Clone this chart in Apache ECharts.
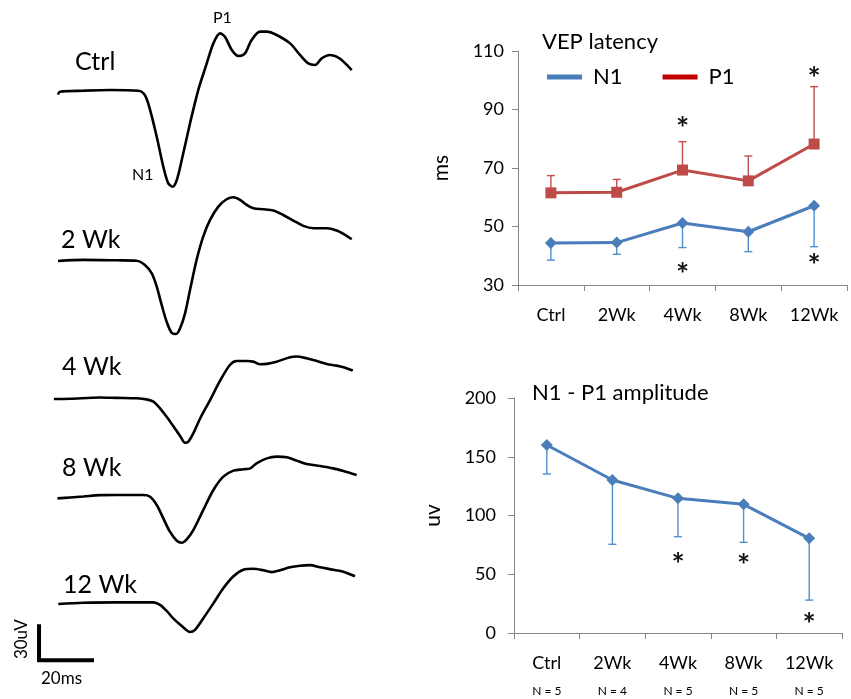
<!DOCTYPE html>
<html>
<head>
<meta charset="utf-8">
<script src="https://cdn.jsdelivr.net/npm/echarts@6/dist/echarts.min.js"></script>
<style>
  html, body { margin: 0; background: #fff; }
  #chart { width: 851px; height: 699px; }
</style>
</head>
<body>
<div id="chart"></div>
<script>
  // groups on the right hand plots
  var groups = ['Ctrl', '2Wk', '4Wk', '8Wk', '12Wk'];
  var groupN = ['N = 5', 'N = 4', 'N = 5', 'N = 5', 'N = 5'];
  var latencyTicks = [30, 50, 70, 90, 110];
  var amplitudeTicks = [0, 50, 100, 150, 200];

  // VEP latency (ms)
  var n1Latency = [44.4, 44.5, 51.2, 48.2, 57.1];
  var n1LatencyLow = [38.5, 40.5, 42.8, 41.4, 43.1];
  var p1Latency = [61.5, 61.7, 69.3, 65.6, 78.2];
  var p1LatencyHigh = [67.4, 66.1, 79.0, 74.1, 97.8];
  var latencyStars = [[2, 85.7], [2, 35.8], [4, 102.8], [4, 38.9]];

  // N1 - P1 amplitude (uv)
  var amplitude = [160, 130.2, 114.6, 109.5, 80.6];
  var amplitudeLow = [135.3, 75.5, 82, 77.2, 28];
  var amplitudeStars = [[2, 63.8], [3, 63], [4, 12.8]];

  // VEP traces, [ms, uV] relative to baseline
  var traceNames = ['Ctrl', '2 Wk', '4 Wk', '8 Wk', '12 Wk'];
  var traceCtrl = [[0,-3],[0.7,-0.8],[9.2,0],[18.9,0.5],[29.2,0],[31.6,-3.3],[33.5,-14.5],[35.9,-34.5],[38.3,-57],[40.1,-69.5],[41.7,-72],[43.2,-67],[45,-52],[48,-24.5],[51,0.5],[54.1,20.5],[56.5,35.5],[58.9,43],[60.7,40.5],[63.2,30.5],[65.6,26],[68,28],[70.4,38],[73.5,44.3],[75.9,44.3],[79.5,41.8],[84.4,35.5],[88,26.8],[91,20.5],[93.5,19.3],[95.9,24.3],[98.9,26.8],[101.3,25.5],[103.8,21.8],[106.8,15.5]];
  var trace2Wk = [[0,-0.5],[9.2,0.3],[21.3,0],[28.6,-0.3],[31.6,-3.5],[34.1,-9.8],[35.9,-19.8],[37.7,-33.5],[39.5,-46],[41.3,-54.3],[42.9,-55.3],[44.4,-51],[46.2,-39.8],[48,-22.3],[50.4,0.3],[52.8,17.8],[55.3,30.3],[58.3,40.3],[61.3,45.8],[63.8,47.3],[66.2,45.3],[68.6,41.5],[71,39],[74.7,38.3],[78.3,37.3],[81.9,34],[85.6,29.8],[89.2,25.8],[92.8,24],[97.7,24],[101.3,22.3],[104.4,19],[106.8,15.8]];
  var trace4Wk = [[-1.5,-0.5],[4.4,-0.3],[15.3,0.6],[21.3,0.3],[28.6,0],[32.2,-0.8],[34.7,-2.5],[37.1,-7.5],[39.5,-13.8],[41.9,-20.8],[44.4,-28.3],[46.2,-33.3],[47.4,-32.5],[49.2,-26.3],[51.6,-15.5],[55.3,-1.3],[58.9,13],[62.5,25],[65,28],[68.6,28],[71,27.5],[73.5,25.5],[75.9,25.8],[79.5,27.5],[84.4,30.8],[86.8,31.3],[90.4,30],[94.1,28],[97.7,25.8],[101.3,24.5],[103.8,23.3],[107.2,20.8]];
  var trace8Wk = [[-0.2,-2],[4.4,-1.3],[9.2,-0.6],[15.3,0.4],[21.3,0.5],[31,0.5],[33.5,-0.8],[35.9,-7],[38.3,-17],[40.7,-27],[43.2,-33.8],[45,-35.3],[46.8,-32.8],[49.2,-25.8],[52.8,-10.8],[56.5,4.3],[60.1,14.3],[63.8,18.8],[67.4,19.8],[69.9,20.5],[72.2,24.3],[75.9,28],[79.5,29.3],[83.2,28.8],[86.8,26.3],[90.4,23.8],[95.3,22.3],[100.1,20.5],[103.8,18.5],[108.6,15.5]];
  var trace12Wk = [[0.1,-1],[9.2,0],[21.3,0.3],[34.7,0.3],[37.1,-1.8],[39.5,-6.8],[41.9,-13],[45,-19.3],[48,-24.3],[49.8,-22.5],[52.8,-13],[56.5,-0.5],[60.1,12],[63.8,22],[67.4,27.5],[71,28.3],[74.7,27],[77.7,25.5],[80.7,27],[84.4,29.5],[88,30.8],[91.6,31.3],[95.3,29.5],[100.1,27.5],[103.8,25.8],[108,22]];
  var traces = [traceCtrl, trace2Wk, trace4Wk, trace8Wk, trace12Wk];
  var scaleBar = [20, 30]; // ms, uV

  var FONT = 'Lato, "Open Sans", sans-serif';
  var BLUE = '#4a7ebb', RED = '#be4b48';
  var BLUE_BAR = '#4f8fd0', RED_BAR = '#c0504d';

  // trace layout: 2.75 px per ms, 40px = 30 uV
  var pxMs = 2.75, pxUv = 40 / 30;
  var traceBase = [90.7, 260.3, 398.3, 495.7, 609.3];

  var grids = [], xAxes = [], yAxes = [], series = [];
  traces.forEach(function (tr, i) {
    grids.push({left: 58 - 10 * pxMs, width: 122 * pxMs, top: traceBase[i] - 50 * pxUv, height: 130 * pxUv});
    xAxes.push({gridIndex: i, type: 'value', min: -10, max: 112, show: false});
    yAxes.push({gridIndex: i, type: 'value', min: -80, max: 50, show: false});
    series.push({
      type: 'line', xAxisIndex: i, yAxisIndex: i, data: tr,
      showSymbol: false, smooth: 0.3, silent: true,
      lineStyle: {color: '#000', width: 2.6}
    });
  });

  // scale bar in the 12 Wk trace grid
  series.push({
    type: 'custom', xAxisIndex: 4, yAxisIndex: 4, silent: true,
    data: [[-6.9, -47.8]],
    renderItem: function (params, api) {
      var t = api.value(0), v = api.value(1);
      var c = api.coord([t, v]);
      var r = api.coord([t + scaleBar[0], v]);
      var u = api.coord([t, v + scaleBar[1]]);
      return {type: 'group', children: [
        {type: 'polyline', shape: {points: [u, c, r]}, style: {stroke: '#000', lineWidth: 4, fill: null, lineJoin: 'miter', lineCap: 'butt'}},
        {type: 'text', x: c[0] - 18, y: (c[1] + u[1]) / 2 - 3, rotation: Math.PI / 2,
          style: {text: scaleBar[1] + 'uV', font: '17px ' + FONT, fill: '#000', align: 'center', verticalAlign: 'middle'}},
        {type: 'text', x: (c[0] + r[0]) / 2 - 5, y: c[1] + 18,
          style: {text: scaleBar[0] + 'ms', font: '17px ' + FONT, fill: '#000', align: 'center', verticalAlign: 'middle'}}
      ]};
    }
  });

  function errorBars(color) {
    return function (params, api) {
      var a = api.coord([api.value(0), api.value(1)]);
      var b = api.coord([api.value(0), api.value(2)]);
      var st = {stroke: color, lineWidth: 1.4};
      return {type: 'group', children: [
        {type: 'line', shape: {x1: a[0], y1: a[1], x2: b[0], y2: b[1]}, style: st},
        {type: 'line', shape: {x1: b[0] - 4, y1: b[1], x2: b[0] + 4, y2: b[1]}, style: st}
      ]};
    };
  }
  function stars(params, api) {
    var p = api.coord([api.value(0), api.value(1)]);
    return {type: 'text', x: p[0], y: p[1] + 7,
      style: {text: '*', font: 'bold 31px ' + FONT, fill: '#111', align: 'center', verticalAlign: 'middle'}};
  }

  var axisGray = {lineStyle: {color: '#868686', width: 1}};
  function catAxis(grid, data, margin, size, line) {
    return {
      gridIndex: grid, type: 'category', data: data, position: 'bottom',
      axisLine: {show: line, lineStyle: axisGray.lineStyle},
      axisTick: {show: line, interval: 0, length: 6, lineStyle: axisGray.lineStyle},
      axisLabel: {interval: 0, margin: margin, fontSize: size, color: '#000', fontFamily: FONT},
      splitLine: {show: false}
    };
  }
  function valAxis(grid, ticks, name, gap, margin) {
    return {
      gridIndex: grid, type: 'value', min: ticks[0], max: ticks[ticks.length - 1],
      interval: ticks[1] - ticks[0],
      name: name, nameLocation: 'middle', nameGap: gap,
      nameTextStyle: {fontSize: 21, color: '#000', fontFamily: FONT},
      axisLine: {show: true, lineStyle: axisGray.lineStyle},
      axisTick: {show: true, length: 6, lineStyle: axisGray.lineStyle},
      axisLabel: {margin: margin, fontSize: 18, color: '#000', fontFamily: FONT},
      splitLine: {show: false}
    };
  }

  // latency plot (grid 5), amplitude plot (grid 6)
  grids.push({left: 518, top: 51, width: 329, height: 234});
  grids.push({left: 514, top: 398, width: 328, height: 235});
  xAxes.push(catAxis(5, groups, 21, 18, true));
  yAxes.push(valAxis(5, latencyTicks, 'ms', 66, 14));
  xAxes.push(catAxis(6, groups, 21, 18, true));
  yAxes.push(valAxis(6, amplitudeTicks, 'uv', 70, 18));
  xAxes.push(catAxis(6, groupN, 52, 12, false));

  series.push(
    {type: 'custom', name: 'N1 sd', xAxisIndex: 5, yAxisIndex: 5, z: 1, silent: true,
      renderItem: errorBars(BLUE_BAR), encode: {x: 0, y: [1, 2]},
      data: groups.map(function (g, i) { return [i, n1Latency[i], n1LatencyLow[i]]; })},
    {type: 'custom', name: 'P1 sd', xAxisIndex: 5, yAxisIndex: 5, z: 1, silent: true,
      renderItem: errorBars(RED_BAR), encode: {x: 0, y: [1, 2]},
      data: groups.map(function (g, i) { return [i, p1Latency[i], p1LatencyHigh[i]]; })},
    {type: 'line', name: 'N1', xAxisIndex: 5, yAxisIndex: 5, z: 3, data: n1Latency,
      symbol: 'diamond', symbolSize: 12, color: BLUE, lineStyle: {width: 3}},
    {type: 'line', name: 'P1', xAxisIndex: 5, yAxisIndex: 5, z: 3, data: p1Latency,
      symbol: 'rect', symbolSize: 11, color: RED, lineStyle: {width: 3}},
    {type: 'custom', xAxisIndex: 5, yAxisIndex: 5, silent: true, renderItem: stars, data: latencyStars},

    {type: 'custom', xAxisIndex: 6, yAxisIndex: 6, z: 1, silent: true,
      renderItem: errorBars(BLUE_BAR), encode: {x: 0, y: [1, 2]},
      data: groups.map(function (g, i) { return [i, amplitude[i], amplitudeLow[i]]; })},
    {type: 'line', name: 'amplitude', xAxisIndex: 6, yAxisIndex: 6, z: 3, data: amplitude,
      symbol: 'diamond', symbolSize: 12, color: BLUE, lineStyle: {width: 3}},
    {type: 'custom', xAxisIndex: 6, yAxisIndex: 6, silent: true, renderItem: stars, data: amplitudeStars}
  );

  function label(text, x, y, size) {
    return {type: 'text', x: x, y: y, silent: true,
      style: {text: text, font: size + 'px ' + FONT, fill: '#000', verticalAlign: 'middle'}};
  }
  var traceLabelPos = [[75, 62], [61, 240], [62, 367], [62, 468], [63, 585]];
  var graphics = traceNames.map(function (n, i) {
    return label(n, traceLabelPos[i][0], traceLabelPos[i][1], 25);
  });
  graphics.push(label('N1', 132, 175, 16));
  graphics.push(label('P1', 213, 18, 16));
  graphics.push(label('VEP latency', 542, 42, 22));
  graphics.push(label('N1 - P1 amplitude', 532, 393, 22));

  var chart = echarts.init(document.getElementById('chart'));
  chart.setOption({
    animation: false,
    backgroundColor: '#fff',
    textStyle: {fontFamily: FONT},
    grid: grids,
    xAxis: xAxes,
    yAxis: yAxes,
    legend: {
      left: 542, top: 61, icon: 'rect', itemWidth: 35, itemHeight: 5, itemGap: 40,
      textStyle: {fontSize: 22, color: '#000', fontFamily: FONT, padding: [0, 0, 0, 6]},
      data: [{name: 'N1', itemStyle: {color: BLUE}}, {name: 'P1', itemStyle: {color: '#c00000'}}]
    },
    graphic: graphics,
    series: series
  });
</script>
</body>
</html>
